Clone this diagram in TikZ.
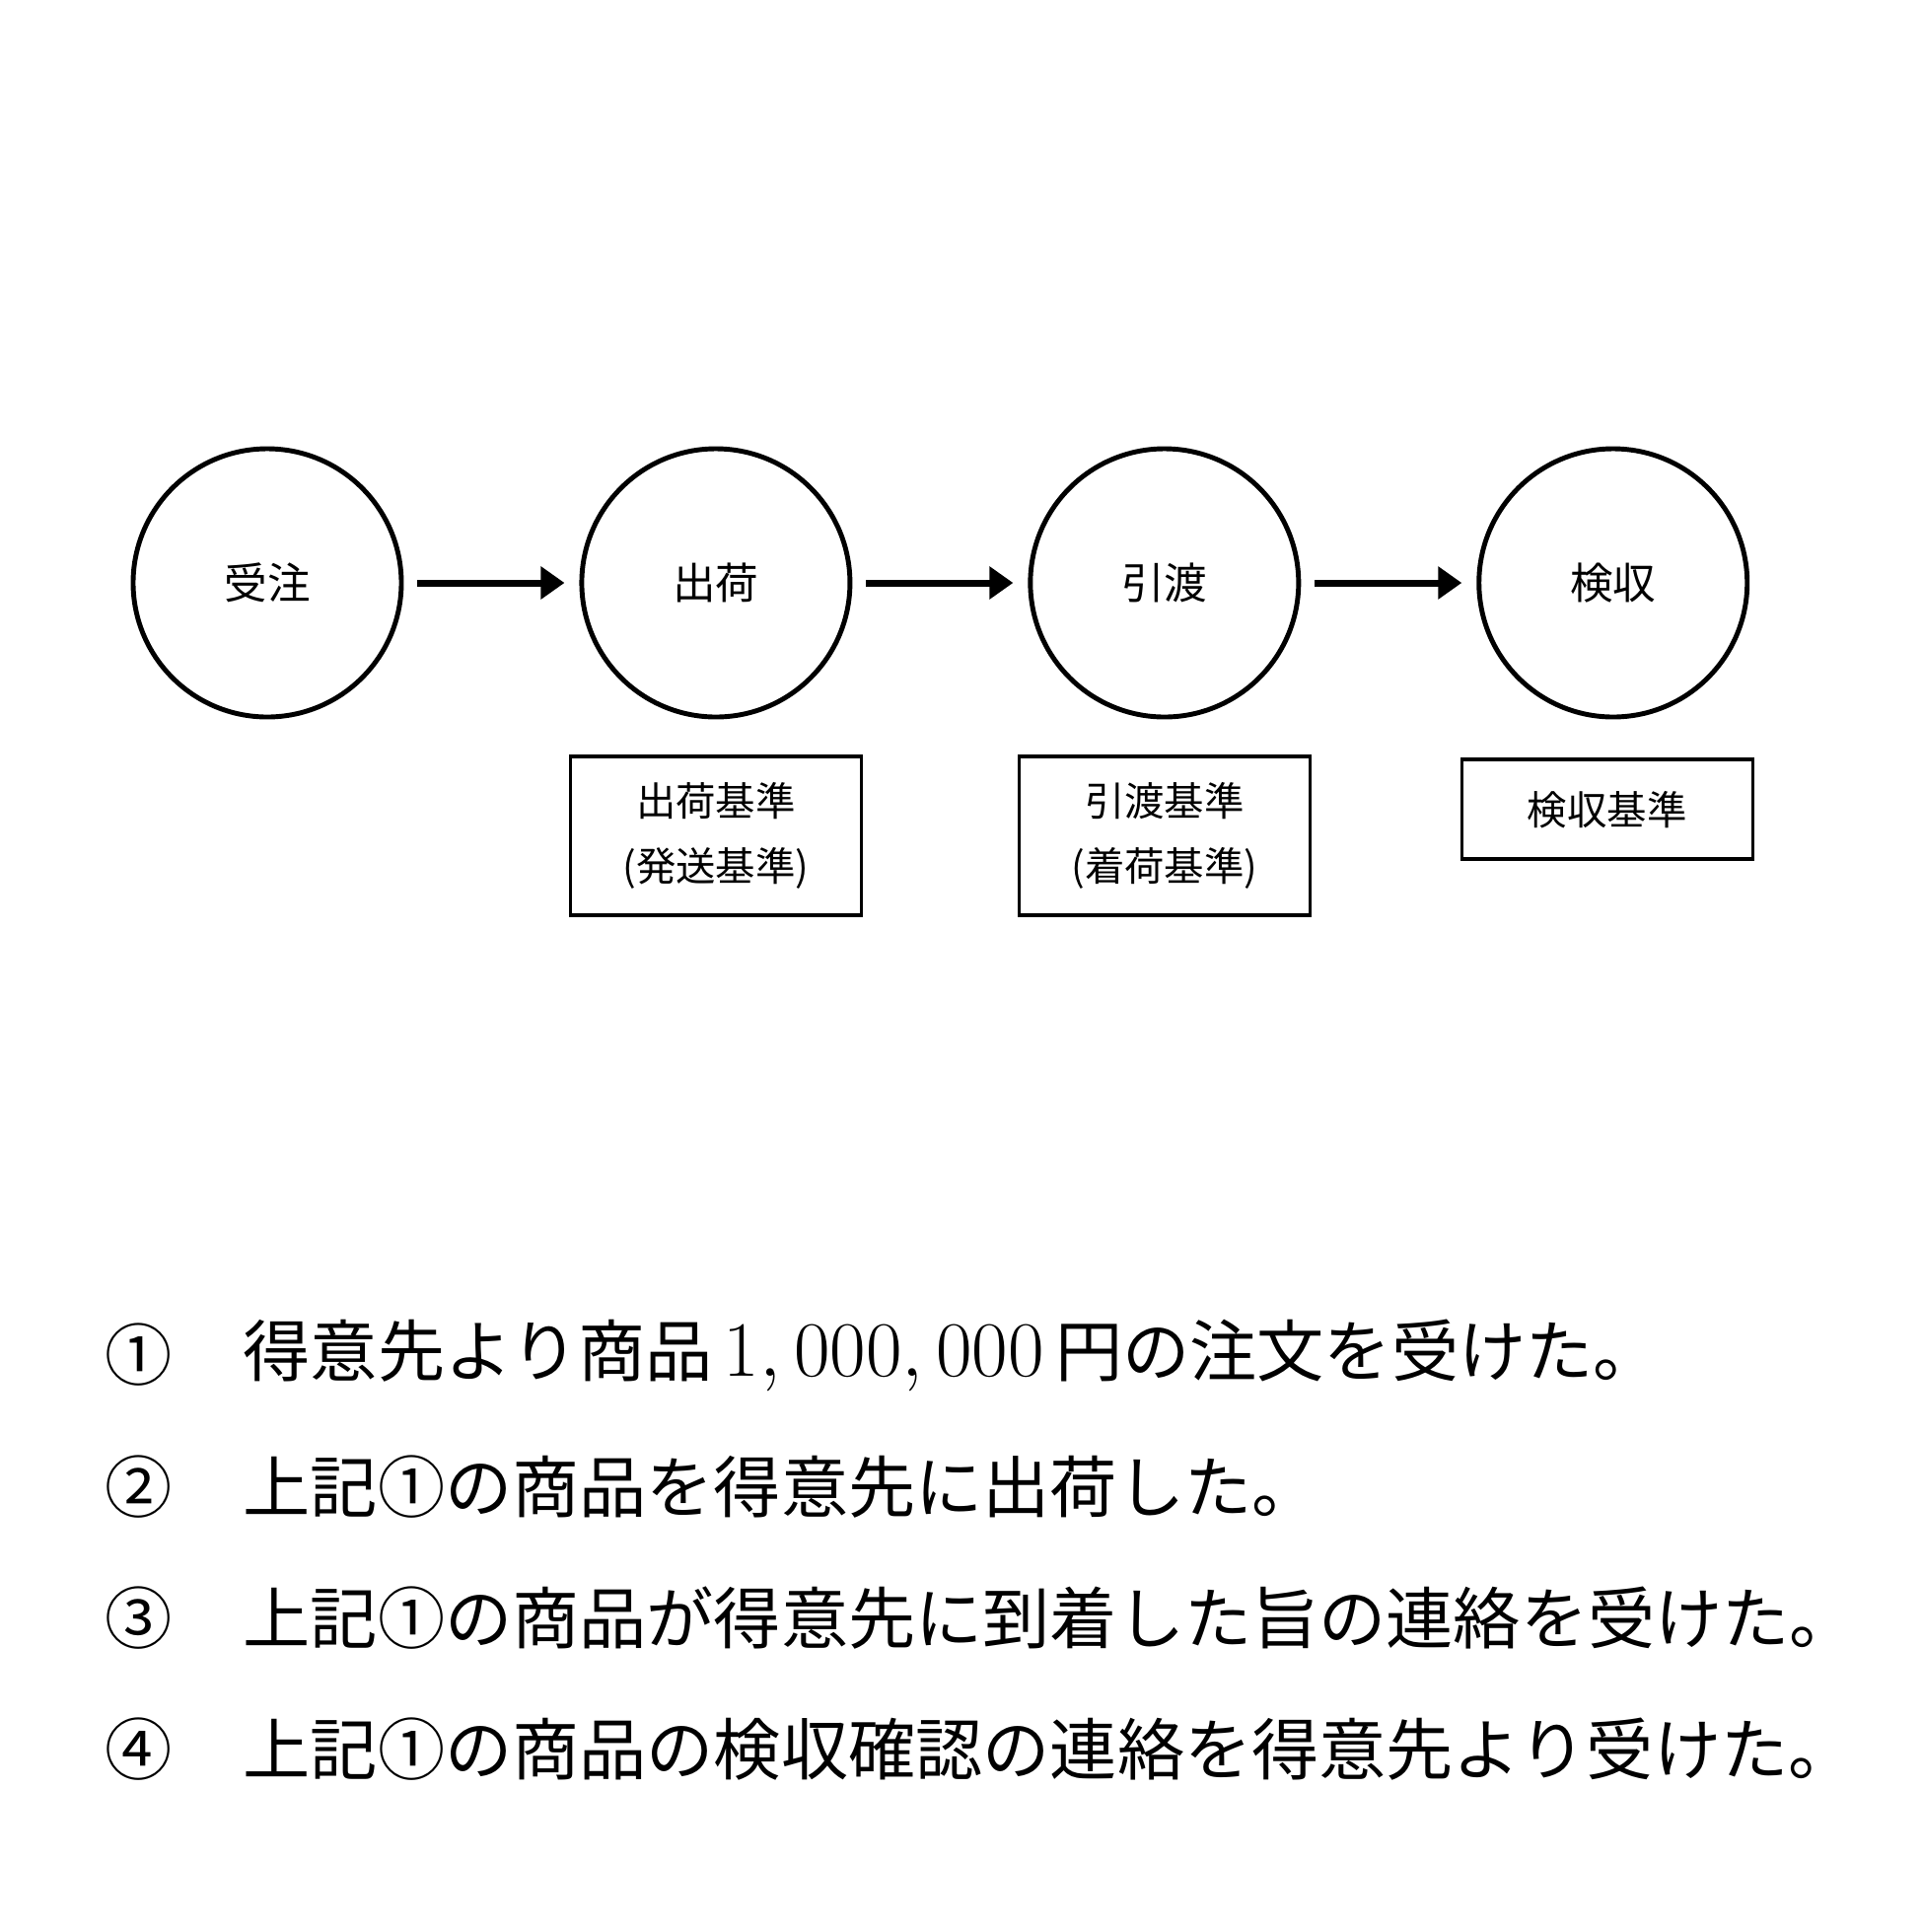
\documentclass[tikz,border=0pt]{standalone}
\usepackage[no-math]{fontspec}
\setmainfont{Noto Sans CJK JP}
\usetikzlibrary{arrows.meta,positioning}

\begin{document}
\begin{tikzpicture}[main node/.style={circle,draw,line width=1.4pt,minimum size=2.72cm,inner sep=0pt,font=\fontsize{12.4pt}{15pt}\selectfont},
    base box/.style={rectangle,draw,line width=1pt,minimum width=2.95cm,align=center,font=\fontsize{11.5pt}{18.8pt}\selectfont},
    item text/.style={anchor=west,inner sep=0pt,font=\fontsize{19.4pt}{23pt}\selectfont}]
    \useasboundingbox (0,0) rectangle (19.49,-19.59);

    \node[main node] (1) at (2.71,-5.91) {受注};
    \node[main node] (2) [right = 1.78cm of 1] {出荷};
    \node[main node] (3) [right = 1.78cm of 2] {引渡};
    \node[main node] (4) [right = 1.78cm of 3] {検収};

    \node[base box,minimum height=1.61cm] (k2) [below = .36cm of 2] {出荷基準\\(発送基準)};
    \node[base box,minimum height=1.61cm] (k3) [below = .36cm of 3] {引渡基準\\(着荷基準)};
    \node[base box,minimum height=1.01cm] (k4) [below = .39cm of 4, xshift=-.06cm] {検収基準};

    \path[draw,line width=2pt,-{Triangle[length=.24cm,width=.32cm]},shorten <=.14cm,shorten >=.15cm]
    (1) edge (2)
    (2) edge (3)
    (3) edge (4)
    ;

    \node[item text,anchor=center] (m1) at (1.41,-13.74) {①};
    \node[item text,anchor=center] (m2) at (1.41,-15.08) {②};
    \node[item text,anchor=center] (m3) at (1.41,-16.41) {③};
    \node[item text,anchor=center] (m4) at (1.41,-17.74) {④};
    \node[item text] (t1) at (2.46,-13.74) {得意先より商品\,\scalebox{1.09}{$1,000,000$}\,円の注文を受けた。};
    \node[item text] (t2) at (2.46,-15.08) {上記①の商品を得意先に出荷した。};
    \node[item text] (t3) at (2.46,-16.41) {上記①の商品が得意先に到着した旨の連絡を受けた。};
    \node[item text] (t4) at (2.46,-17.74) {上記①の商品の検収確認の連絡を得意先より受けた。};
\end{tikzpicture}
\end{document}
